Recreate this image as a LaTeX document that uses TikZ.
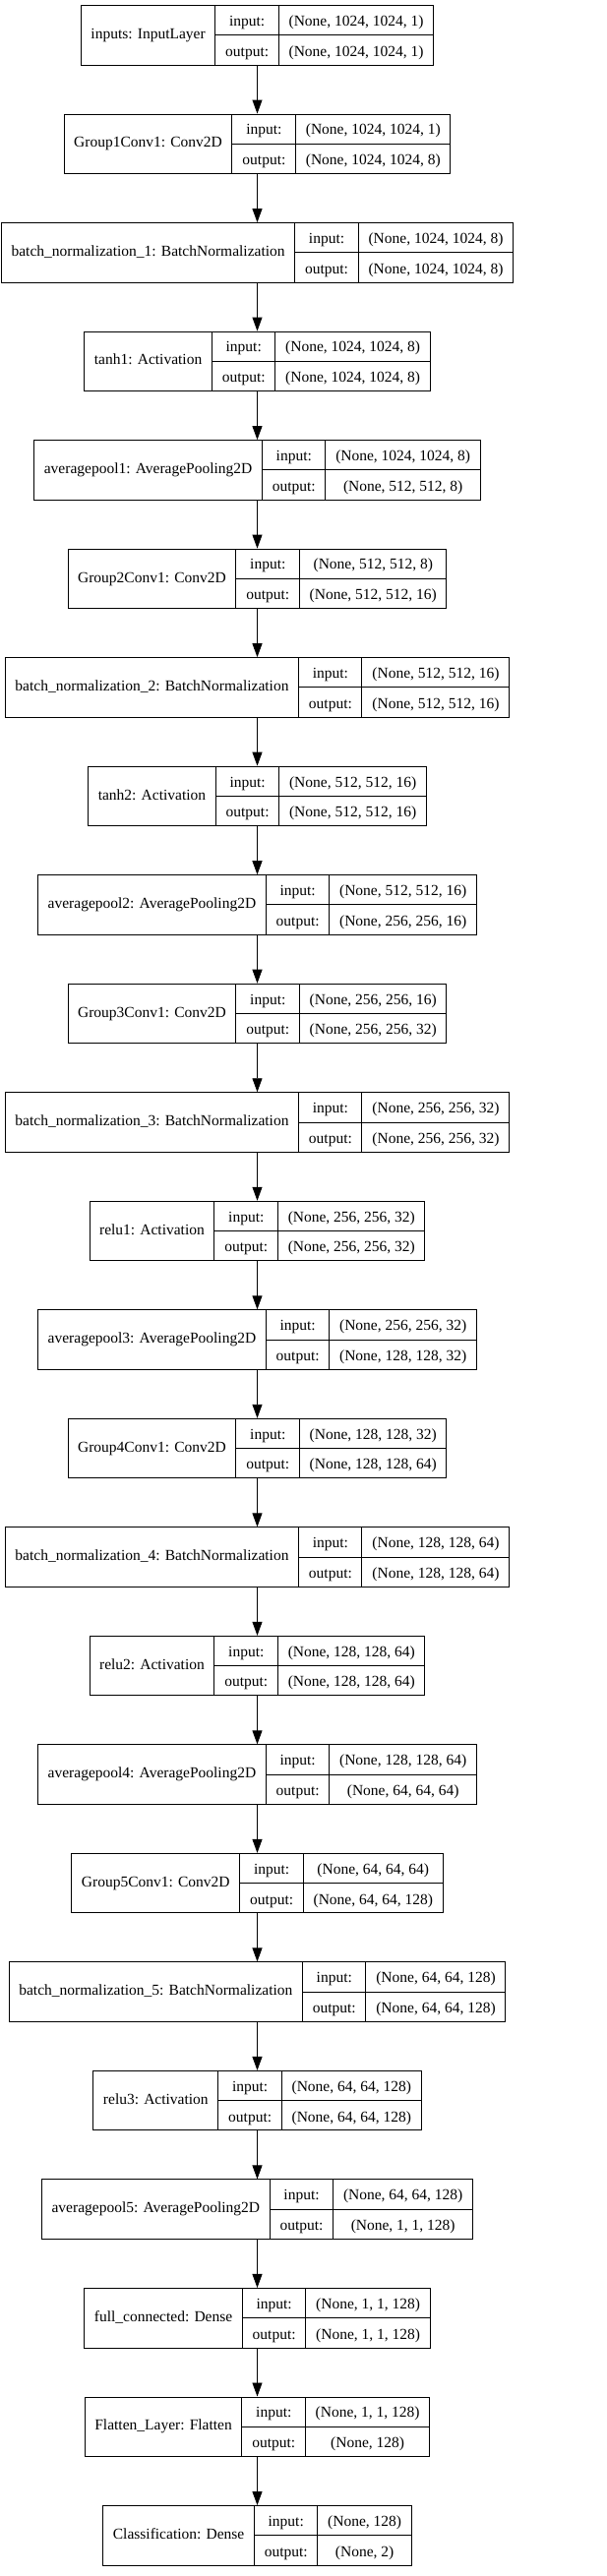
\documentclass[tikz,border=0pt]{standalone}
\usepackage{fontspec}
\setmainfont{Liberation Serif}
\usetikzlibrary{positioning,arrows.meta}

\setlength{\arrayrulewidth}{1pt}
\setlength{\tabcolsep}{10pt}
\renewcommand{\arraystretch}{1.6}
\newcommand{\layerbox}[3]{%
  \begin{tabular}{c|@{}c@{}|@{}c@{}}
    #1 &
    \begin{tabular}{c}input:\\\hline output:\end{tabular} &
    \begin{tabular}{c}#2\\\hline #3\end{tabular}
  \end{tabular}}

\begin{document}
\begin{tikzpicture}[x=1pt, y=1pt, node distance=49pt,
    layer/.style={draw, line width=1pt, inner sep=0pt,
      font=\fontsize{15.5}{18.6}\selectfont},
    arr/.style={line width=0.9pt, -{Triangle[length=14pt,width=10pt]}}]
  \useasboundingbox (0,0) rectangle (617,-2619);

  \node[layer] (inputs) at (261.5,-35.8)
    {\layerbox{inputs: InputLayer}{(None, 1024, 1024, 1)}{(None, 1024, 1024, 1)}};
  \node[layer, below=of inputs] (conv1)
    {\layerbox{Group1Conv1: Conv2D}{(None, 1024, 1024, 1)}{(None, 1024, 1024, 8)}};
  \node[layer, below=of conv1] (bn1)
    {\layerbox{batch\_normalization\_1: BatchNormalization}{(None, 1024, 1024, 8)}{(None, 1024, 1024, 8)}};
  \node[layer, below=of bn1] (tanh1)
    {\layerbox{tanh1: Activation}{(None, 1024, 1024, 8)}{(None, 1024, 1024, 8)}};
  \node[layer, below=of tanh1] (pool1)
    {\layerbox{averagepool1: AveragePooling2D}{(None, 1024, 1024, 8)}{(None, 512, 512, 8)}};
  \node[layer, below=of pool1] (conv2)
    {\layerbox{Group2Conv1: Conv2D}{(None, 512, 512, 8)}{(None, 512, 512, 16)}};
  \node[layer, below=of conv2] (bn2)
    {\layerbox{batch\_normalization\_2: BatchNormalization}{(None, 512, 512, 16)}{(None, 512, 512, 16)}};
  \node[layer, below=of bn2] (tanh2)
    {\layerbox{tanh2: Activation}{(None, 512, 512, 16)}{(None, 512, 512, 16)}};
  \node[layer, below=of tanh2] (pool2)
    {\layerbox{averagepool2: AveragePooling2D}{(None, 512, 512, 16)}{(None, 256, 256, 16)}};
  \node[layer, below=of pool2] (conv3)
    {\layerbox{Group3Conv1: Conv2D}{(None, 256, 256, 16)}{(None, 256, 256, 32)}};
  \node[layer, below=of conv3] (bn3)
    {\layerbox{batch\_normalization\_3: BatchNormalization}{(None, 256, 256, 32)}{(None, 256, 256, 32)}};
  \node[layer, below=of bn3] (relu1)
    {\layerbox{relu1: Activation}{(None, 256, 256, 32)}{(None, 256, 256, 32)}};
  \node[layer, below=of relu1] (pool3)
    {\layerbox{averagepool3: AveragePooling2D}{(None, 256, 256, 32)}{(None, 128, 128, 32)}};
  \node[layer, below=of pool3] (conv4)
    {\layerbox{Group4Conv1: Conv2D}{(None, 128, 128, 32)}{(None, 128, 128, 64)}};
  \node[layer, below=of conv4] (bn4)
    {\layerbox{batch\_normalization\_4: BatchNormalization}{(None, 128, 128, 64)}{(None, 128, 128, 64)}};
  \node[layer, below=of bn4] (relu2)
    {\layerbox{relu2: Activation}{(None, 128, 128, 64)}{(None, 128, 128, 64)}};
  \node[layer, below=of relu2] (pool4)
    {\layerbox{averagepool4: AveragePooling2D}{(None, 128, 128, 64)}{(None, 64, 64, 64)}};
  \node[layer, below=of pool4] (conv5)
    {\layerbox{Group5Conv1: Conv2D}{(None, 64, 64, 64)}{(None, 64, 64, 128)}};
  \node[layer, below=of conv5] (bn5)
    {\layerbox{batch\_normalization\_5: BatchNormalization}{(None, 64, 64, 128)}{(None, 64, 64, 128)}};
  \node[layer, below=of bn5] (relu3)
    {\layerbox{relu3: Activation}{(None, 64, 64, 128)}{(None, 64, 64, 128)}};
  \node[layer, below=of relu3] (pool5)
    {\layerbox{averagepool5: AveragePooling2D}{(None, 64, 64, 128)}{(None, 1, 1, 128)}};
  \node[layer, below=of pool5] (fc)
    {\layerbox{full\_connected: Dense}{(None, 1, 1, 128)}{(None, 1, 1, 128)}};
  \node[layer, below=of fc] (flatten)
    {\layerbox{Flatten\_Layer: Flatten}{(None, 1, 1, 128)}{(None, 128)}};
  \node[layer, below=of flatten] (classify)
    {\layerbox{Classification: Dense}{(None, 128)}{(None, 2)}};

  \draw[arr] (inputs) -- (conv1);
  \draw[arr] (conv1) -- (bn1);
  \draw[arr] (bn1) -- (tanh1);
  \draw[arr] (tanh1) -- (pool1);
  \draw[arr] (pool1) -- (conv2);
  \draw[arr] (conv2) -- (bn2);
  \draw[arr] (bn2) -- (tanh2);
  \draw[arr] (tanh2) -- (pool2);
  \draw[arr] (pool2) -- (conv3);
  \draw[arr] (conv3) -- (bn3);
  \draw[arr] (bn3) -- (relu1);
  \draw[arr] (relu1) -- (pool3);
  \draw[arr] (pool3) -- (conv4);
  \draw[arr] (conv4) -- (bn4);
  \draw[arr] (bn4) -- (relu2);
  \draw[arr] (relu2) -- (pool4);
  \draw[arr] (pool4) -- (conv5);
  \draw[arr] (conv5) -- (bn5);
  \draw[arr] (bn5) -- (relu3);
  \draw[arr] (relu3) -- (pool5);
  \draw[arr] (pool5) -- (fc);
  \draw[arr] (fc) -- (flatten);
  \draw[arr] (flatten) -- (classify);
\end{tikzpicture}
\end{document}
